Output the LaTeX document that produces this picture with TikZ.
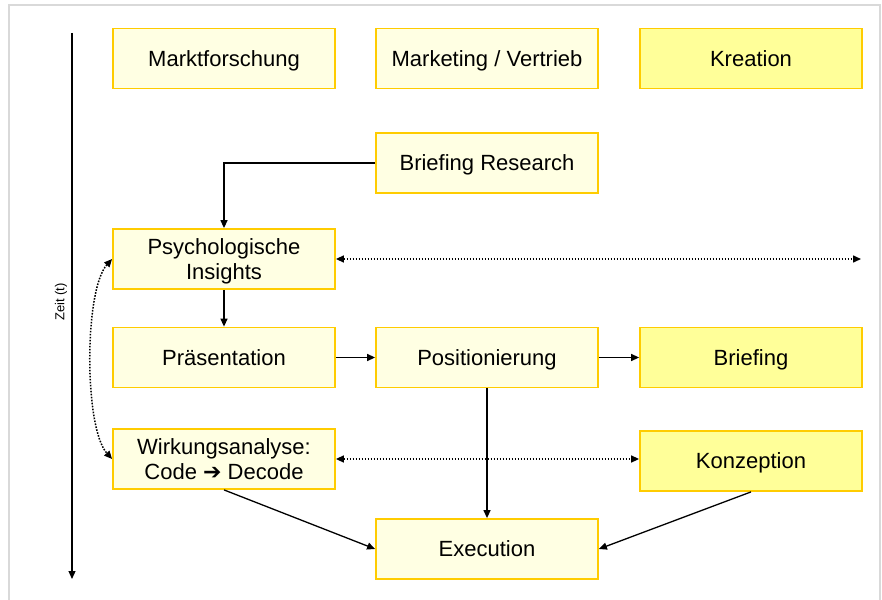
\documentclass[tikz,border=0pt]{standalone}
\usepackage{fontspec}
\setmainfont{Liberation Sans}
\newfontfamily\dvfont{DejaVu Sans}
\usetikzlibrary{arrows.meta}
\definecolor{boxlight}{HTML}{FFFFE3}
\definecolor{boxdark}{HTML}{FFFF99}
\definecolor{boxline}{HTML}{FFCC00}
\definecolor{framegray}{HTML}{D9D9D9}
\begin{document}
\begin{tikzpicture}[x=1pt,y=-1pt,
  box/.style={draw=boxline, line width=1.8pt, fill=boxlight, minimum width=222pt,
    minimum height=60pt, inner sep=0pt, align=center,
    text height=15.8pt, text depth=0pt,
    font=\fontsize{22}{24.5}\selectfont},
  twoline/.style={text height=40.3pt, text depth=0pt},
  dbox/.style={box, fill=boxdark},
  arr/.style={-{Triangle[length=8pt,width=7pt]}, line width=1.3pt},
  darr/.style={{Triangle[length=8pt,width=7pt]}-{Triangle[length=8pt,width=7pt]},
    line width=1.5pt, dash pattern=on 1.6pt off 1.4pt}]
\useasboundingbox (0,0) rectangle (882,599);
\fill[white] (0,0) rectangle (882,599);
% frame
\draw[framegray, line width=2pt] (9,602) -- (9,5) -- (880,5) -- (880,602);
% nodes
\node[box]  (mf)  at (224,58.5) {Marktforschung};
\node[box]  (mv)  at (487,58.5) {Marketing / Vertrieb};
\node[dbox] (kr)  at (751,58.5) {Kreation};
\node[box]  (br)  at (487,163) {Briefing Research};
\node[box, twoline]  (psy) at (224,259) {Psychologische\\Insights};
\node[box]  (pra) at (224,357.5) {Präsentation};
\node[box]  (pos) at (487,357.5) {Positionierung};
\node[dbox] (bri) at (751,357.5) {Briefing};
\node[box, twoline]  (wir) at (224,459) {Wirkungsanalyse:\\Code {\dvfont\bfseries\fontsize{22}{24.5}\selectfont ➔} Decode};
\node[dbox] (kon) at (751,461) {Konzeption};
\node[box]  (exe) at (487,549) {Execution};
% time axis
\coordinate (t1) at (72,33);
\coordinate (t2) at (72,579);
\draw[arr, line width=1.2pt] (t1) -- (t2);
\node[rotate=90, font=\fontsize{13}{15}\selectfont] (zeit) at (61,302) {Zeit (t)};
% connectors
\draw[arr] (br.west) -| (psy.north);
\draw[arr] (psy.south) -- (pra.north);
\draw[arr] (pra.east) -- (pos.west);
\draw[arr] (pos.east) -- (bri.west);
\draw[arr] (pos.south) -- (exe.north);
\draw[arr] (wir.south) -- (exe.west);
\draw[arr] (kon.south) -- (exe.east);
\coordinate (pe) at (861,259);
\draw[darr] (psy.east) -- (pe);
\draw[darr] (wir.east) -- (kon.west |- wir.east);
\draw[darr] (psy.west) .. controls (84,290) and (84,428) .. (wir.west);
\end{tikzpicture}
\end{document}
